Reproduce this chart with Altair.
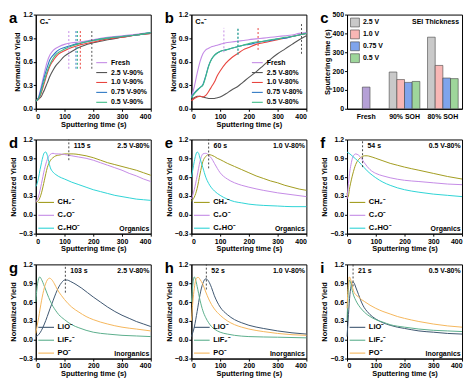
import altair as alt
import pandas as pd

FONT = "Liberation Sans"
W, H = 116, 95

# ---------------- colours ----------------
C_FRESH = "#C48BE6"
C_25 = "#555555"
C_10 = "#E8453F"
C_075 = "#2F78C4"
C_05 = "#3DBB86"
C_CH2 = "#A29C1E"
C_C2O = "#C48BE6"
C_C2HO = "#2ED3D6"
C_LIO = "#3E5670"
C_LIF2 = "#5BAE8C"
C_PO = "#F5B65B"

# ---------------- panel a (90% SOH) ----------------
a_t = [0, 5, 10, 15, 20, 25, 30, 40, 50, 60, 70, 80, 100, 125, 150, 200, 250, 300, 350, 400]
a_fresh = [0.10, 0.11, 0.15, 0.22, 0.30, 0.38, 0.46, 0.60, 0.69, 0.74, 0.77, 0.79, 0.82, 0.84, 0.85, 0.88, 0.91, 0.93, 0.95, 0.97]
a_v25 = [0.10, 0.12, 0.13, 0.14, 0.16, 0.20, 0.24, 0.33, 0.42, 0.49, 0.55, 0.59, 0.67, 0.73, 0.78, 0.84, 0.88, 0.91, 0.94, 0.96]
a_v10 = [0.10, 0.11, 0.12, 0.16, 0.21, 0.27, 0.33, 0.45, 0.55, 0.61, 0.66, 0.70, 0.74, 0.78, 0.81, 0.85, 0.89, 0.91, 0.94, 0.96]
a_v075 = [0.10, 0.11, 0.14, 0.20, 0.27, 0.34, 0.41, 0.53, 0.63, 0.68, 0.72, 0.75, 0.78, 0.81, 0.83, 0.87, 0.90, 0.92, 0.94, 0.97]
a_v05 = [0.10, 0.11, 0.13, 0.17, 0.23, 0.30, 0.36, 0.48, 0.57, 0.64, 0.69, 0.72, 0.76, 0.80, 0.83, 0.87, 0.90, 0.92, 0.94, 0.97]
a_names = ["Fresh", "2.5 V-90%", "1.0 V-90%", "0.75 V-90%", "0.5 V-90%"]
a_mark_t = [115, 195, 155, 140, 145]
a_mark_lo = [0.51, 0.51, 0.51, 0.51, 0.51]
a_mark_hi = [1.01, 1.01, 1.01, 1.01, 1.01]

# ---------------- panel b (80% SOH) ----------------
b_t = [0, 10, 20, 30, 40, 50, 60, 70, 80, 90, 100, 120, 140, 160, 180, 200, 225, 250, 275, 300, 325, 350, 375, 400]
b_fresh = [0.15, 0.28, 0.45, 0.60, 0.70, 0.75, 0.77, 0.79, 0.80, 0.81, 0.82, 0.84, 0.85, 0.86, 0.87, 0.88, 0.89, 0.90, 0.91, 0.92, 0.93, 0.94, 0.96, 0.97]
b_v25 = [0.12, 0.14, 0.16, 0.16, 0.15, 0.14, 0.13, 0.13, 0.13, 0.14, 0.15, 0.19, 0.24, 0.28, 0.34, 0.40, 0.47, 0.55, 0.63, 0.70, 0.76, 0.82, 0.88, 0.93]
b_v10 = [0.10, 0.13, 0.15, 0.16, 0.15, 0.17, 0.22, 0.28, 0.34, 0.42, 0.48, 0.58, 0.65, 0.70, 0.75, 0.78, 0.82, 0.84, 0.86, 0.88, 0.90, 0.92, 0.94, 0.96]
b_v075 = [0.15, 0.20, 0.24, 0.27, 0.31, 0.42, 0.55, 0.63, 0.68, 0.71, 0.73, 0.75, 0.77, 0.79, 0.81, 0.82, 0.84, 0.86, 0.87, 0.89, 0.90, 0.92, 0.94, 0.96]
b_v05 = [0.14, 0.19, 0.23, 0.27, 0.30, 0.41, 0.54, 0.63, 0.68, 0.71, 0.73, 0.75, 0.77, 0.79, 0.81, 0.83, 0.85, 0.86, 0.88, 0.89, 0.91, 0.92, 0.94, 0.96]
b_names = ["Fresh", "2.5 V-80%", "1.0 V-80%", "0.75 V-80%", "0.5 V-80%"]
b_mark_t = [113, 383, 232, 162, 162]
b_mark_lo = [0.72, 0.70, 0.75, 0.69, 0.69]
b_mark_hi = [1.03, 1.10, 1.04, 1.03, 1.03]

# ---------------- panel c (SEI thickness) ----------------
c_groups = ["Fresh", "90% SOH", "80% SOH"]
c_series = ["2.5 V", "1.0 V", "0.75 V", "0.5 V"]
c_fresh = [115]
c_90 = [195, 155, 140, 145]
c_80 = [380, 230, 163, 160]
c_colors = ["#C9C9C9", "#F8B7B5", "#7FA4EC", "#9ED69B"]
c_fresh_color = "#B5A0D6"

# ---------------- panels d-f (organics) ----------------
org_names = ["CH\u2082\u207b", "C\u2082O\u207b", "C\u2082HO\u207b"]

d_ch2_t = [0, 5, 10, 20, 30, 40, 50, 60, 70, 80, 90, 100, 115, 130, 150, 175, 200, 225, 250, 275, 300, 325, 350, 375, 400]
d_ch2_y = [0.20, 0.21, 0.23, 0.35, 0.55, 0.75, 0.86, 0.91, 0.94, 0.95, 0.96, 0.97, 0.97, 0.97, 0.96, 0.94, 0.91, 0.87, 0.83, 0.80, 0.77, 0.74, 0.71, 0.67, 0.63]
d_c2o_t = [0, 10, 20, 30, 40, 50, 60, 70, 80, 100, 125, 150, 175, 200, 225, 250, 275, 300, 325, 350, 375, 400]
d_c2o_y = [0.20, 0.30, 0.50, 0.72, 0.88, 0.96, 0.98, 0.97, 0.97, 0.96, 0.94, 0.92, 0.90, 0.87, 0.83, 0.79, 0.75, 0.71, 0.66, 0.62, 0.57, 0.53]
d_c2ho_t = [0, 5, 10, 15, 20, 25, 30, 35, 40, 45, 50, 60, 70, 80, 100, 125, 150, 175, 200, 225, 250, 275, 300, 325, 350, 375, 400]
d_c2ho_y = [0.45, 0.50, 0.60, 0.72, 0.83, 0.93, 0.99, 1.00, 0.95, 0.85, 0.76, 0.68, 0.64, 0.61, 0.57, 0.52, 0.48, 0.44, 0.40, 0.37, 0.34, 0.31, 0.29, 0.27, 0.25, 0.24, 0.23]

e_ch2_t = [0, 10, 20, 30, 40, 50, 60, 70, 80, 90, 100, 125, 150, 175, 200, 225, 250, 275, 300, 325, 350, 375, 400]
e_ch2_y = [0.22, 0.28, 0.42, 0.65, 0.85, 0.93, 0.96, 0.95, 0.93, 0.90, 0.88, 0.82, 0.77, 0.72, 0.67, 0.62, 0.58, 0.54, 0.51, 0.47, 0.44, 0.41, 0.39]
e_c2o_t = [0, 10, 20, 30, 40, 50, 60, 70, 80, 90, 100, 125, 150, 175, 200, 250, 300, 350, 400]
e_c2o_y = [0.25, 0.40, 0.62, 0.85, 0.97, 0.98, 0.95, 0.90, 0.82, 0.74, 0.67, 0.57, 0.51, 0.47, 0.44, 0.39, 0.35, 0.32, 0.29]
e_c2ho_t = [0, 5, 10, 15, 20, 25, 30, 40, 50, 60, 70, 80, 100, 125, 150, 175, 200, 250, 300, 350, 400]
e_c2ho_y = [0.60, 0.72, 0.85, 0.95, 1.00, 0.98, 0.90, 0.75, 0.60, 0.50, 0.43, 0.38, 0.31, 0.25, 0.21, 0.19, 0.17, 0.15, 0.14, 0.13, 0.13]

f_ch2_t = [0, 3, 10, 20, 30, 40, 50, 60, 70, 80, 100, 125, 150, 175, 200, 250, 300, 350, 400]
f_ch2_y = [0.35, 0.28, 0.45, 0.65, 0.80, 0.88, 0.92, 0.94, 0.94, 0.93, 0.90, 0.86, 0.82, 0.79, 0.76, 0.71, 0.66, 0.61, 0.57]
f_c2o_t = [0, 5, 10, 15, 20, 30, 40, 50, 60, 70, 80, 100, 125, 150, 200, 250, 300, 350, 400]
f_c2o_y = [0.25, 0.50, 0.70, 0.83, 0.92, 0.97, 0.95, 0.90, 0.83, 0.77, 0.72, 0.66, 0.62, 0.59, 0.55, 0.53, 0.51, 0.49, 0.48]
f_c2ho_t = [0, 10, 20, 30, 40, 50, 60, 70, 80, 100, 125, 150, 175, 200, 250, 300, 350, 400]
f_c2ho_y = [1.00, 0.97, 0.93, 0.89, 0.85, 0.80, 0.75, 0.70, 0.66, 0.59, 0.52, 0.47, 0.43, 0.40, 0.36, 0.33, 0.31, 0.29]

# ---------------- panels g-i (inorganics) ----------------
inorg_names = ["LiO\u207b", "LiF\u2082\u207b", "PO\u207b"]

g_lio_t = [0, 10, 20, 30, 40, 50, 60, 70, 80, 90, 100, 110, 120, 140, 160, 180, 200, 225, 250, 275, 300, 325, 350, 375, 400]
g_lio_y = [0.05, 0.08, 0.15, 0.25, 0.37, 0.50, 0.62, 0.74, 0.84, 0.91, 0.95, 0.95, 0.93, 0.88, 0.82, 0.75, 0.68, 0.60, 0.52, 0.45, 0.39, 0.34, 0.29, 0.25, 0.21]
g_lif2_t = [0, 5, 10, 14, 20, 30, 40, 50, 60, 70, 80, 100, 125, 150, 175, 200, 250, 300, 350, 400]
g_lif2_y = [0.60, 0.85, 0.97, 1.00, 0.96, 0.85, 0.73, 0.62, 0.53, 0.46, 0.40, 0.32, 0.24, 0.19, 0.15, 0.12, 0.09, 0.07, 0.06, 0.05]
g_po_t = [0, 10, 20, 30, 40, 48, 55, 65, 75, 90, 100, 125, 150, 175, 200, 250, 300, 350, 400]
g_po_y = [0.10, 0.35, 0.62, 0.83, 0.95, 0.98, 0.96, 0.89, 0.80, 0.70, 0.64, 0.52, 0.44, 0.37, 0.32, 0.25, 0.20, 0.17, 0.14]

h_lio_t = [0, 10, 20, 30, 40, 50, 55, 60, 70, 80, 90, 100, 125, 150, 175, 200, 250, 300, 350, 400]
h_lio_y = [0.05, 0.20, 0.45, 0.72, 0.90, 0.97, 0.96, 0.93, 0.83, 0.70, 0.60, 0.52, 0.40, 0.32, 0.27, 0.23, 0.18, 0.14, 0.11, 0.09]
h_lif2_t = [0, 5, 10, 15, 20, 30, 40, 50, 60, 70, 80, 100, 125, 150, 200, 300, 400]
h_lif2_y = [0.60, 0.88, 1.00, 0.95, 0.85, 0.63, 0.46, 0.35, 0.27, 0.21, 0.17, 0.12, 0.09, 0.07, 0.05, 0.04, 0.03]
h_po_t = [0, 5, 10, 15, 20, 25, 30, 40, 50, 60, 70, 80, 100, 125, 150, 175, 200, 250, 300, 350, 400]
h_po_y = [0.30, 0.60, 0.82, 0.95, 0.99, 0.99, 0.96, 0.88, 0.76, 0.65, 0.56, 0.49, 0.39, 0.30, 0.24, 0.20, 0.17, 0.13, 0.10, 0.08, 0.07]

i_lio_t = [0, 5, 10, 15, 20, 25, 30, 40, 50, 60, 70, 80, 100, 125, 150, 175, 200, 250, 300, 350, 400]
i_lio_y = [0.05, 0.40, 0.72, 0.87, 0.92, 0.90, 0.84, 0.72, 0.60, 0.51, 0.45, 0.40, 0.33, 0.27, 0.23, 0.20, 0.18, 0.14, 0.12, 0.10, 0.09]
i_lif2_t = [0, 4, 8, 12, 16, 20, 30, 40, 50, 60, 80, 100, 125, 150, 200, 250, 300, 350, 400]
i_lif2_y = [0.30, 0.75, 0.95, 0.92, 0.83, 0.75, 0.63, 0.55, 0.49, 0.44, 0.37, 0.32, 0.28, 0.24, 0.20, 0.17, 0.15, 0.14, 0.13]
i_po_t = [0, 4, 8, 12, 16, 20, 25, 30, 40, 50, 60, 80, 100, 125, 150, 175, 200, 250, 300, 350, 400]
i_po_y = [0.50, 0.85, 1.00, 0.97, 0.90, 0.82, 0.75, 0.72, 0.68, 0.64, 0.61, 0.55, 0.50, 0.45, 0.41, 0.37, 0.34, 0.29, 0.25, 0.22, 0.20]

# peak markers (time, lower end of dashed line)
peak_t = [115, 60, 54, 103, 52, 21]
peak_lo = [0.87, 0.74, 0.76, 0.75, 0.80, 0.85]
cond = ["2.5 V-80%", "1.0 V-80%", "0.5 V-80%", "2.5 V-80%", "1.0 V-80%", "0.5 V-80%"]


def long_df(names, ts, ys):
    rows = []
    for n, tt, yy in zip(names, ts, ys):
        for t, y in zip(tt, yy):
            rows.append({"series": n, "t": t, "y": y})
    return pd.DataFrame(rows)


def letter(ch):
    return alt.Chart(pd.DataFrame({"k": [0]})).mark_text(
        text=ch, align="left", baseline="top", fontSize=15, fontWeight="bold", font=FONT
    ).encode(x=alt.value(-27), y=alt.value(-3))


X_ENC = alt.X("t:Q", title="Sputtering time (s)",
              scale=alt.Scale(domain=[0, 400], nice=False),
              axis=alt.Axis(values=[0, 100, 200, 300, 400], labelOverlap=False))


def yenc(lo, vals):
    return alt.Y("y:Q", title="Normalized Yield",
                 scale=alt.Scale(domain=[lo, 1.2], nice=False),
                 axis=alt.Axis(values=vals, format=".1f", labelOverlap=False))


def soh_panel(ch, names, colors, ts, ys, mt, mlo, mhi):
    df = long_df(names, ts, ys)
    cscale = alt.Scale(domain=names, range=colors)
    Y = yenc(0, [0, 0.3, 0.6, 0.9, 1.2])
    lines = alt.Chart(df).mark_line(strokeWidth=1.1, interpolate="monotone").encode(
        x=X_ENC, y=Y,
        color=alt.Color("series:N", scale=cscale, sort=names,
                        legend=alt.Legend(title=None, orient="bottom-right", offset=3,
                                          symbolType="stroke", symbolStrokeWidth=1.1,
                                          symbolSize=120, labelFontSize=7,
                                          labelFontWeight="bold", labelFont=FONT,
                                          rowPadding=0, labelOffset=3)),
        detail="series:N")
    mdf = pd.DataFrame({"series": names, "t": mt, "y": mlo, "y2": mhi})
    rules = alt.Chart(mdf).mark_rule(strokeDash=[2, 2], strokeWidth=1).encode(
        x=X_ENC, y=Y, y2="y2:Q",
        color=alt.Color("series:N", scale=cscale, legend=None))
    lab = alt.Chart(pd.DataFrame({"k": [0]})).mark_text(
        text="C\u2085\u207b", align="left", baseline="top", fontSize=7.5, fontWeight="bold", font=FONT
    ).encode(x=alt.value(4), y=alt.value(4))
    return alt.layer(lines, rules, lab, letter(ch)).properties(width=W, height=H)


def ion_panel(ch, names, colors, ts, ys, pt, plo, cond_txt, kind):
    df = long_df(names, ts, ys)
    cscale = alt.Scale(domain=names, range=colors)
    Y = yenc(-0.3, [-0.3, 0.0, 0.3, 0.6, 0.9, 1.2])
    lines = alt.Chart(df).mark_line(strokeWidth=1.0, interpolate="monotone").encode(
        x=X_ENC, y=Y,
        color=alt.Color("series:N", scale=cscale, sort=names,
                        legend=alt.Legend(title=None, orient="bottom-left", offset=2,
                                          symbolType="stroke", symbolStrokeWidth=1.1,
                                          symbolSize=250, labelFontSize=7.5,
                                          labelFontWeight="bold", labelFont=FONT,
                                          rowPadding=1, labelOffset=3)),
        detail="series:N")
    mdf = pd.DataFrame({"t": [pt], "y": [plo], "y2": [1.2]})
    rule = alt.Chart(mdf).mark_rule(strokeDash=[2, 2], strokeWidth=0.9, color="#333333").encode(
        x=X_ENC, y=Y, y2="y2:Q")
    pdf = pd.DataFrame({"t": [pt], "y": [1.1], "txt": [f"{pt} s"]})
    ptxt = alt.Chart(pdf).mark_text(align="left", baseline="middle", dx=5, fontSize=7,
                                    fontWeight="bold", font=FONT).encode(
        x=X_ENC, y=Y, text="txt:N")
    tdf = pd.DataFrame({"t": [395, 395], "y": [1.1, -0.22], "txt": [cond_txt, kind]})
    corner = alt.Chart(tdf).mark_text(align="right", baseline="middle", fontSize=7,
                                      fontWeight="bold", font=FONT).encode(
        x=X_ENC, y=Y, text="txt:N")
    return alt.layer(lines, rule, ptxt, corner, letter(ch)).properties(width=W, height=H)


# panel a, b
pa = soh_panel("a", a_names, [C_FRESH, C_25, C_10, C_075, C_05], [a_t] * 5,
               [a_fresh, a_v25, a_v10, a_v075, a_v05], a_mark_t, a_mark_lo, a_mark_hi)
pb = soh_panel("b", b_names, [C_FRESH, C_25, C_10, C_075, C_05], [b_t] * 5,
               [b_fresh, b_v25, b_v10, b_v075, b_v05], b_mark_t, b_mark_lo, b_mark_hi)

# panel c
xband = alt.Scale(domain=c_groups, paddingInner=0.2, paddingOuter=0.1)
fresh_df = pd.DataFrame({"grp": ["Fresh"], "v": c_fresh})
grp_df = pd.DataFrame({
    "grp": ["90% SOH"] * 4 + ["80% SOH"] * 4,
    "series": c_series * 2,
    "v": c_90 + c_80,
})
cx = alt.X("grp:N", scale=xband, sort=c_groups, title=None,
           axis=alt.Axis(labelAngle=0, ticks=False, labelPadding=4))
cy = alt.Y("v:Q", title="Sputtering time (s)", scale=alt.Scale(domain=[0, 500], nice=False),
           axis=alt.Axis(values=[0, 100, 200, 300, 400, 500], labelOverlap=False))
bar_fresh = alt.Chart(fresh_df).mark_bar(width=alt.RelativeBandSize(0.25), color=c_fresh_color,
                                         stroke="#444444", strokeWidth=0.6).encode(x=cx, y=cy)
bar_grp = alt.Chart(grp_df).mark_bar(stroke="#444444", strokeWidth=0.6).encode(
    x=cx, y=cy,
    xOffset=alt.XOffset("series:N", sort=c_series, scale=alt.Scale(paddingInner=0, paddingOuter=0)),
    color=alt.Color("series:N", sort=c_series, scale=alt.Scale(domain=c_series, range=c_colors),
                    legend=alt.Legend(title=None, orient="top-left", offset=3,
                                      symbolType="square", symbolStrokeColor="#444444",
                                      symbolStrokeWidth=0.6, symbolSize=80,
                                      labelFontSize=7, labelFontWeight="bold",
                                      labelFont=FONT, rowPadding=0, labelOffset=3)))
sei = alt.Chart(pd.DataFrame({"k": [0]})).mark_text(
    text="SEI Thickness", align="right", baseline="top", fontSize=7, fontWeight="bold", font=FONT
).encode(x=alt.value(W - 3), y=alt.value(4))
pc = alt.layer(bar_fresh, bar_grp, sei, letter("c")).properties(width=W, height=H)

org_cols = [C_CH2, C_C2O, C_C2HO]
inorg_cols = [C_LIO, C_LIF2, C_PO]
pd_ = ion_panel("d", org_names, org_cols, [d_ch2_t, d_c2o_t, d_c2ho_t],
                [d_ch2_y, d_c2o_y, d_c2ho_y], peak_t[0], peak_lo[0], cond[0], "Organics")
pe = ion_panel("e", org_names, org_cols, [e_ch2_t, e_c2o_t, e_c2ho_t],
               [e_ch2_y, e_c2o_y, e_c2ho_y], peak_t[1], peak_lo[1], cond[1], "Organics")
pf = ion_panel("f", org_names, org_cols, [f_ch2_t, f_c2o_t, f_c2ho_t],
               [f_ch2_y, f_c2o_y, f_c2ho_y], peak_t[2], peak_lo[2], cond[2], "Organics")
pg = ion_panel("g", inorg_names, inorg_cols, [g_lio_t, g_lif2_t, g_po_t],
               [g_lio_y, g_lif2_y, g_po_y], peak_t[3], peak_lo[3], cond[3], "Inorganics")
ph = ion_panel("h", inorg_names, inorg_cols, [h_lio_t, h_lif2_t, h_po_t],
               [h_lio_y, h_lif2_y, h_po_y], peak_t[4], peak_lo[4], cond[4], "Inorganics")
pi = ion_panel("i", inorg_names, inorg_cols, [i_lio_t, i_lif2_t, i_po_t],
               [i_lio_y, i_lif2_y, i_po_y], peak_t[5], peak_lo[5], cond[5], "Inorganics")

chart = alt.concat(pa, pb, pc, pd_, pe, pf, pg, ph, pi, columns=3,
                   spacing={"row": 6, "column": 10}).resolve_scale(
    color="independent", x="independent", y="independent", xOffset="independent"
).properties(padding=0, background="white").configure_view(
    stroke="black", strokeWidth=1
).configure_axis(
    labelFont=FONT, titleFont=FONT, labelFontWeight="bold", titleFontWeight="bold",
    labelFontSize=7, titleFontSize=7.5, labelColor="black", titleColor="black",
    domainColor="black", tickColor="black", tickSize=2.5, labelPadding=1, titlePadding=1,
    grid=False, labelOverlap=False
)

chart.save("out.html", embed_options={"renderer": "svg", "actions": False})
